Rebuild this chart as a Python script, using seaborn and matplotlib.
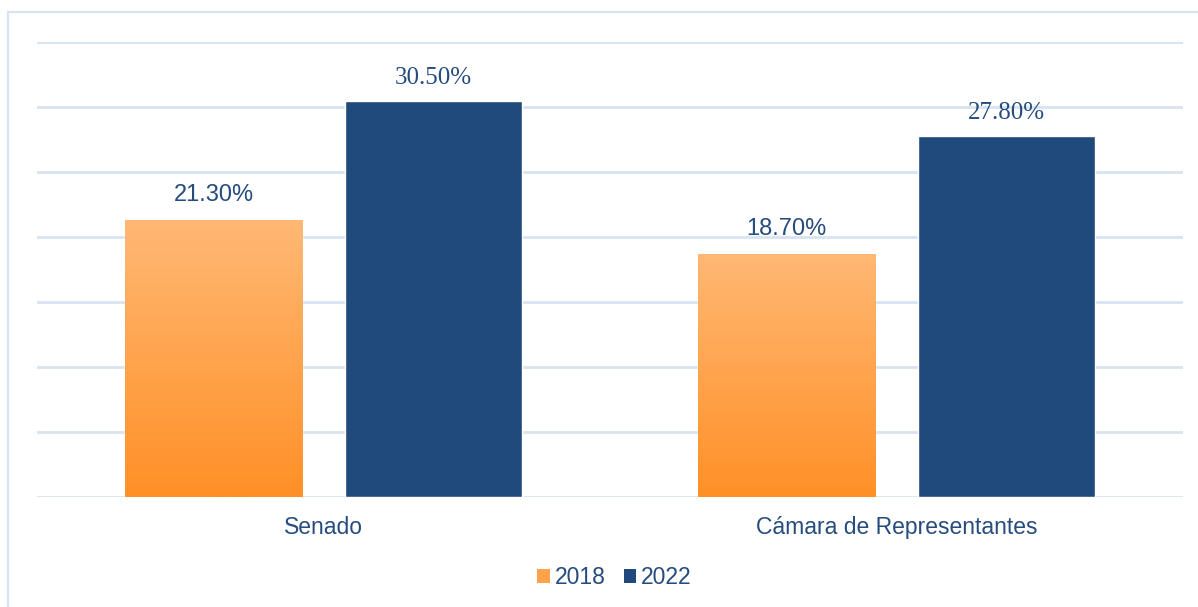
import numpy as np
import pandas as pd
import matplotlib
matplotlib.use("Agg")
import matplotlib.pyplot as plt
import seaborn as sns
from matplotlib.patches import Rectangle
from matplotlib.colors import LinearSegmentedColormap

# ---- data ----
categories = ["Senado", "Cámara de Representantes"]
years = ["2018", "2022"]
values_2018 = [21.30, 18.70]
values_2022 = [30.50, 27.80]

df = pd.DataFrame({
    "camara": categories * 2,
    "anio": [years[0]] * 2 + [years[1]] * 2,
    "valor": values_2018 + values_2022,
})

ORANGE_TOP = "#FFB874"
ORANGE_BOT = "#FF9027"
NAVY = "#204A7B"
TEXT = "#264C7E"
GRID = "#D8E3F2"

sns.set_theme(style="white")
plt.rcParams["font.family"] = ["Liberation Sans", "DejaVu Sans"]

fig = plt.figure(figsize=(11.98, 6.07), dpi=100)
ax = fig.add_axes([37 / 1198, (607 - 497) / 607, (1183 - 37) / 1198, (497 - 42) / 607])

sns.barplot(data=df, x="camara", y="valor", hue="anio", order=categories,
            hue_order=years, palette=[ORANGE_BOT, NAVY], width=0.766, gap=0.193,
            saturation=1, legend=False, ax=ax, zorder=3)

ax.set_xlim(-0.5, 1.5)
ax.set_ylim(0, 35)
ax.set_yticks(np.arange(0, 36, 5))
ax.yaxis.grid(True, color=GRID, linewidth=2.0, zorder=0)
ax.set_yticklabels([])
ax.tick_params(axis="y", length=0)
ax.tick_params(axis="x", length=0, pad=14, labelsize=16.5, labelcolor=TEXT)
ax.set_xlabel("")
ax.set_ylabel("")
for s in ax.spines.values():
    s.set_visible(False)

# gradient fill for the 2018 bars
cmap = LinearSegmentedColormap.from_list("org", [ORANGE_BOT, ORANGE_TOP])
grad = np.linspace(0, 1, 256).reshape(-1, 1)
for patch in ax.containers[0]:
    x0, y0 = patch.get_x(), patch.get_y()
    w, h = patch.get_width(), patch.get_height()
    im = ax.imshow(grad, cmap=cmap, origin="lower", aspect="auto",
                   extent=[x0, x0 + w, y0, y0 + h], zorder=4)
    im.set_clip_path(patch)
ax.set_xlim(-0.5, 1.5)
ax.set_ylim(0, 35)

ax.bar_label(ax.containers[0], labels=[f"{v:.2f}%" for v in values_2018],
             padding=10, fontsize=17, color=TEXT, family="Liberation Sans", zorder=5)
ax.bar_label(ax.containers[1], labels=[f"{v:.2f}%" for v in values_2022],
             padding=8, fontsize=18, color=TEXT, family="Liberation Serif", zorder=5)

# chart frame
fig.patches.append(Rectangle((8 / 1198, -0.02), 1.1, (607 - 12) / 607 + 0.02,
                             transform=fig.transFigure, fill=False,
                             edgecolor=GRID, linewidth=1.6, zorder=0))

handles = [Rectangle((0, 0), 1, 1, facecolor="#FFA24A", edgecolor="none"),
           Rectangle((0, 0), 1, 1, facecolor=NAVY, edgecolor="none")]
leg = fig.legend(handles, years, loc="center", bbox_to_anchor=(0.513, (607 - 578) / 607),
                 ncol=2, frameon=False, fontsize=16.5, handlelength=0.55,
                 handleheight=0.55, handletextpad=0.2, columnspacing=0.8)
for t in leg.get_texts():
    t.set_color(TEXT)

fig.savefig("out.png", dpi=100)
